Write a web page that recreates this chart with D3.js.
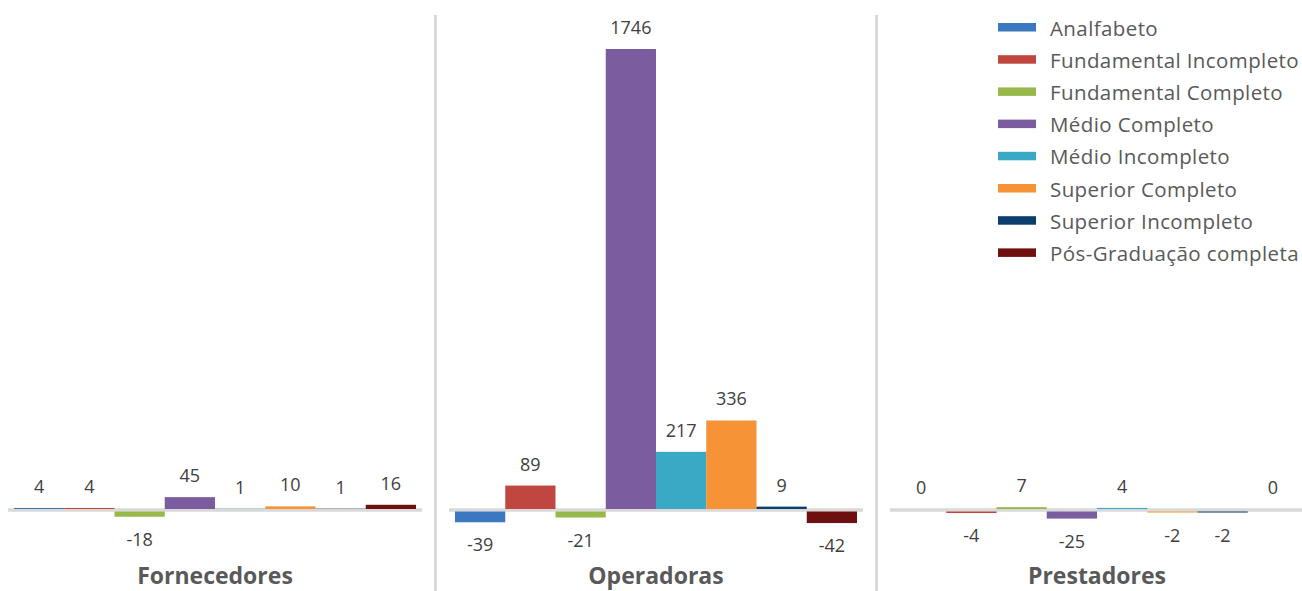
<!DOCTYPE html>
<html>
<head>
<meta charset="utf-8">
<script src="https://cdn.jsdelivr.net/npm/d3@7"></script>
<style>
  body { margin: 0; background: #fff; }
  svg { display: block; font-family: "Open Sans", sans-serif; }
</style>
</head>
<body>
<script>
// data
let groups = ["Fornecedores", "Operadoras", "Prestadores"]
let series = ["Analfabeto", "Fundamental Incompleto", "Fundamental Completo", "Médio Completo",
    "Médio Incompleto", "Superior Completo", "Superior Incompleto", "Pós-Graduação completa"]
let colors = ["#3c78c0", "#c0473f", "#97b94c", "#7b5c9f", "#3aa9c5", "#f59336", "#0b3e6e", "#6e0f10"]
let fornecedores = [4, 4, -18, 45, 1, 10, 1, 16]
let operadoras = [-39, 89, -21, 1746, 217, 336, 9, -42]
let prestadores = [0, -4, 7, -25, 4, -2, -2, 0]
let values = [fornecedores, operadoras, prestadores]

let w = 1302
let h = 591

let svg = d3.select("body").append("svg")
    .attr("width", w)
    .attr("height", h)

// scales
let x0 = d3.scaleBand()
    .domain(groups)
    .range([-5.5, 1317.5])
let x1 = d3.scaleBand()
    .domain(series)
    .range([19.5, x0.bandwidth() - 19.5])
let y = d3.scaleLinear()
    .domain([0, 1746])
    .range([510, 50])
let color = d3.scaleOrdinal()
    .domain(series)
    .range(colors)

// separators between panels
svg.selectAll(".sep")
    .data(groups.slice(1))
    .enter()
    .append("line")
    .attr("class", "sep")
    .attr("x1", d => x0(d))
    .attr("x2", d => x0(d))
    .attr("y1", 15)
    .attr("y2", h)
    .attr("stroke", "#d9d9d9")
    .attr("stroke-width", 3)

let panel = svg.selectAll(".panel")
    .data(groups.map((g, i) => ({name: g, vals: values[i]})))
    .enter()
    .append("g")
    .attr("class", "panel")
    .attr("transform", d => "translate(" + x0(d.name) + ",0)")

let rows = d => d.vals.map((v, i) => ({s: series[i], v: v}))

// zero line (behind the bars)
panel.append("line")
    .attr("x1", 13.5)
    .attr("x2", x0.bandwidth() - 13.5)
    .attr("y1", y(0))
    .attr("y2", y(0))
    .attr("stroke", "#d9d9d9")
    .attr("stroke-width", 3.5)

// bars: positives sit on the axis line, negatives hang below it
panel.selectAll(".bar")
    .data(rows)
    .enter()
    .append("rect")
    .attr("class", "bar")
    .attr("x", d => x1(d.s))
    .attr("width", x1.bandwidth())
    .attr("y", d => d.v >= 0 ? y(d.v) - 1 : y(0) + 1.5)
    .attr("height", d => d.v === 0 ? 0 : Math.abs(y(d.v) - y(0)) + (d.v > 0 ? 0 : 0.5))
    .attr("fill", d => color(d.s))

// value labels
panel.selectAll(".val")
    .data(rows)
    .enter()
    .append("text")
    .attr("class", "val")
    .attr("x", d => x1(d.s) + x1.bandwidth() / 2)
    .attr("y", d => d.v >= 0 ? y(d.v) - 16 : y(d.v) + 31)
    .attr("text-anchor", "middle")
    .attr("font-size", 18)
    .attr("fill", "#404040")
    .text(d => d.v)

// group labels
panel.append("text")
    .attr("x", x0.bandwidth() / 2)
    .attr("y", 584)
    .attr("text-anchor", "middle")
    .attr("font-size", 23)
    .attr("font-weight", "bold")
    .attr("fill", "#595959")
    .text(d => d.name)

// legend
let legend = svg.append("g")
    .attr("transform", "translate(998,0)")
let item = legend.selectAll("g")
    .data(series)
    .enter()
    .append("g")
    .attr("transform", (d, i) => "translate(0," + (35.5 + i * 32.2) + ")")
item.append("rect")
    .attr("x", 0)
    .attr("y", -12.5)
    .attr("width", 38)
    .attr("height", 8.5)
    .attr("fill", d => color(d))
item.append("text")
    .attr("x", 52)
    .attr("y", 0)
    .attr("font-size", 20.5)
    .attr("letter-spacing", 0.4)
    .attr("fill", "#595959")
    .text(d => d)
</script>
</body>
</html>
